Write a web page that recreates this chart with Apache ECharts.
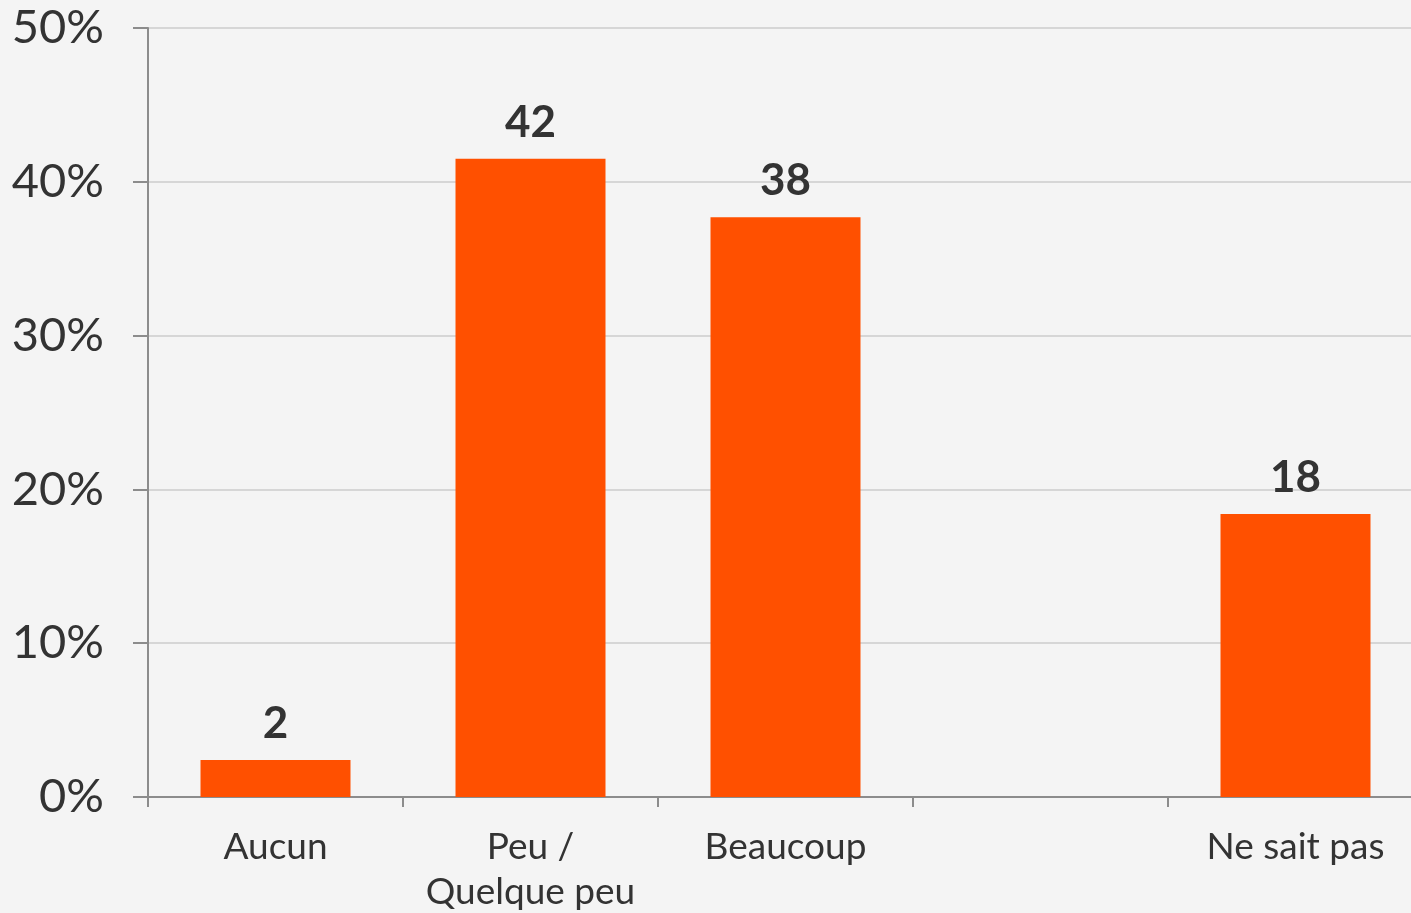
<!DOCTYPE html>
<html>
<head>
<meta charset="utf-8">
<script src="https://cdn.jsdelivr.net/npm/echarts@6/dist/echarts.min.js"></script>
<style>
  html, body { margin: 0; padding: 0; background: #f4f4f4; }
  #chart { width: 1411px; height: 913px; }
</style>
</head>
<body>
<div id="chart"></div>
<script>
// categories (the 4th slot is an empty gap in the original)
var categories = ['Aucun', 'Peu /\nQuelque peu', 'Beaucoup', '', 'Ne sait pas'];
// bar heights, in %
var values = [2.4, 41.5, 37.7, null, 18.4];
// numbers printed above the bars
var labels = ['2', '42', '38', '', '18'];

var font = '"Century Gothic", "URW Gothic", Lato, "DejaVu Sans", sans-serif';

var chart = echarts.init(document.getElementById('chart'));
chart.setOption({
  backgroundColor: '#f4f4f4',
  animation: false,
  grid: { left: 148, top: 28, width: 1275, height: 769, outerBoundsMode: 'none', containLabel: false },
  xAxis: {
    type: 'category',
    data: categories,
    axisLine: { lineStyle: { color: '#8c8c8c', width: 2 } },
    axisTick: { show: true, length: 10, lineStyle: { color: '#8c8c8c', width: 2 } },
    axisLabel: {
      color: '#333',
      fontFamily: font,
      fontSize: 37,
      lineHeight: 45,
      margin: 28,
      interval: 0
    }
  },
  yAxis: {
    type: 'value',
    min: 0,
    max: 50,
    interval: 10,
    axisLine: { show: true, lineStyle: { color: '#8c8c8c', width: 2 } },
    axisTick: { show: true, inside: false, length: 15, lineStyle: { color: '#8c8c8c', width: 2 } },
    splitLine: { lineStyle: { color: '#d6d6d6', width: 2 } },
    axisLabel: {
      color: '#333',
      fontFamily: font,
      fontSize: 47,
      margin: 44,
      formatter: '{value}%'
    }
  },
  series: [{
    type: 'bar',
    data: values,
    barWidth: 150,
    itemStyle: { color: '#ff5000' },
    label: {
      show: true,
      position: 'top',
      distance: 14,
      color: '#333',
      fontFamily: font,
      fontWeight: 'bold',
      fontSize: 44,
      formatter: function (p) { return labels[p.dataIndex]; }
    }
  }]
});
</script>
</body>
</html>
